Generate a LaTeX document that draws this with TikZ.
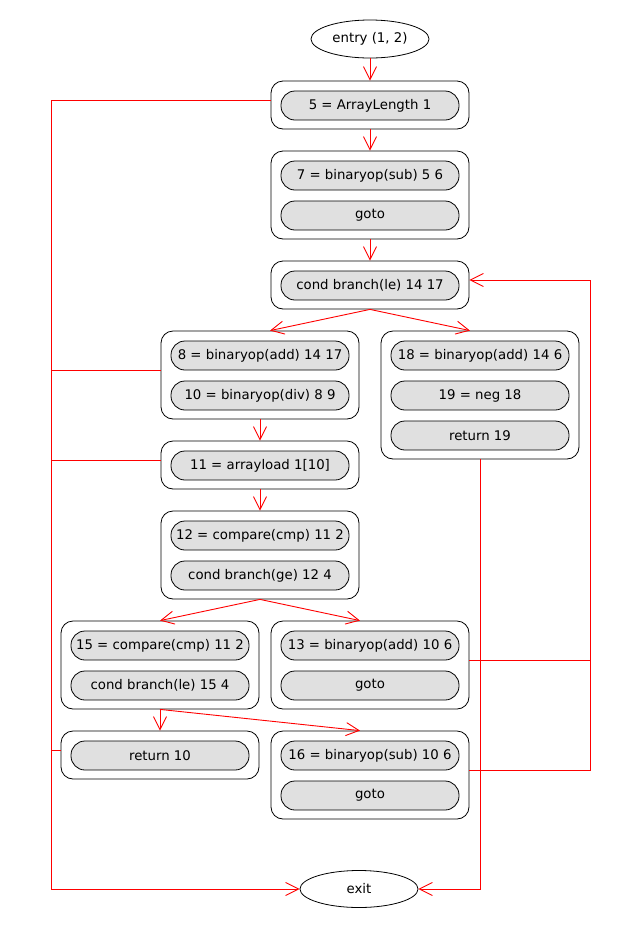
\documentclass[tikz,border=0pt]{standalone}
\usepackage{fontspec}
\setmainfont{DejaVu Sans}
\usetikzlibrary{shapes.geometric,arrows.meta}
\definecolor{pillgray}{RGB}{224,224,224}
\begin{document}
\begin{tikzpicture}[x=1pt,y=-1pt,
  block/.style={draw, rounded corners=12pt, minimum width=198pt, inner sep=0pt, line width=0.8pt},
  pill/.style={draw, fill=pillgray, rounded corners=14pt, minimum width=178pt, minimum height=29pt, inner sep=0pt, line width=0.8pt, font=\fontsize{13.3}{15}\selectfont},
  term/.style={draw, ellipse, minimum width=118pt, minimum height=38pt, inner sep=0pt, line width=0.8pt, font=\fontsize{13.3}{15}\selectfont},
  edge/.style={draw=red, line width=0.9pt, -{Straight Barb[length=13pt,width=13pt]}},
  plain/.style={draw=red, line width=0.9pt}]
\useasboundingbox (0,0) rectangle (630,930);
% terminals
\node[term] (entry) at (370,39) {entry (1, 2)};
\node[term, minimum height=37pt] (exit) at (359,889) {exit};
% blocks
\node[block, minimum height=48pt]  (B1)  at (370,105) {};
\node[block, minimum height=88pt]  (B2)  at (370,195) {};
\node[block, minimum height=48pt]  (B3)  at (370,285) {};
\node[block, minimum height=88pt]  (B4)  at (260,375) {};
\node[block, minimum height=128pt] (B5)  at (480,395) {};
\node[block, minimum height=48pt]  (B6)  at (260,465) {};
\node[block, minimum height=88pt]  (B7)  at (260,555) {};
\node[block, minimum height=88pt]  (B8)  at (160,665) {};
\node[block, minimum height=88pt]  (B9)  at (370,665) {};
\node[block, minimum height=48pt]  (B10) at (160,755) {};
\node[block, minimum height=88pt]  (B11) at (370,775) {};
% pills
\node[pill] (p1)  at (370,105.5) {5 = ArrayLength 1};
\node[pill] (p2)  at (370,175.5) {7 = binaryop(sub) 5 6};
\node[pill] (p3)  at (370,215.5) {goto};
\node[pill] (p4)  at (370,285.5) {cond branch(le) 14 17};
\node[pill] (p5)  at (260,355.5) {8 = binaryop(add) 14 17};
\node[pill] (p6)  at (260,395.5) {10 = binaryop(div) 8 9};
\node[pill] (p7)  at (480,355.5) {18 = binaryop(add) 14 6};
\node[pill] (p8)  at (480,395.5) {19 = neg 18};
\node[pill] (p9)  at (480,435.5) {return 19};
\node[pill] (p10) at (260,465.5) {11 = arrayload 1[10]};
\node[pill] (p11) at (260,535.5) {12 = compare(cmp) 11 2};
\node[pill] (p12) at (260,575.5) {cond branch(ge) 12 4};
\node[pill] (p13) at (160,645.5) {15 = compare(cmp) 11 2};
\node[pill] (p14) at (160,685.5) {cond branch(le) 15 4};
\node[pill] (p15) at (370,645.5) {13 = binaryop(add) 10 6};
\node[pill] (p16) at (370,685.5) {goto};
\node[pill] (p17) at (160,755.5) {return 10};
\node[pill] (p18) at (370,755.5) {16 = binaryop(sub) 10 6};
\node[pill] (p19) at (370,795.5) {goto};
% helper coordinates for routed edges
\coordinate (lx) at (51,0);
\coordinate (rx) at (590.5,0);
% straight edges
\draw[edge] (entry) -- (B1);
\draw[edge] (B1) -- (B2);
\draw[edge] (B2) -- (B3);
\draw[edge] (B3.south) -- ([xshift=10pt]B4.north);
\draw[edge] (B3.south) -- ([xshift=-10pt]B5.north);
\draw[edge] (B4) -- (B6);
\draw[edge] (B6) -- (B7);
\draw[edge] (B7.south) -- (B8.north);
\draw[edge] (B7.south) -- ([xshift=-10pt]B9.north);
\draw[edge] (B8.south) -- (B10.north);
\draw[edge] (B8.south) -- ([xshift=-10pt]B11.north);
% back edges on the right
\draw[edge] ([yshift=5pt]B9.east) -- ([yshift=5pt]B9.east -| rx) -- ([yshift=5pt]B3.east -| rx) -- ([yshift=5pt]B3.east);
\draw[plain] ([yshift=5pt]B11.east) -- ([yshift=5pt]B11.east -| rx) -- ([yshift=5pt]B9.east -| rx);
% edge to exit from B5
\draw[edge] (B5.south) |- (exit.east);
% edges to exit on the left
\draw[edge] ([yshift=5pt]B1.west) -- ([yshift=5pt]B1.west -| lx) |- (exit.west);
\draw[plain] ([yshift=5pt]B4.west) -- ([yshift=5pt]B4.west -| lx);
\draw[plain] ([yshift=5pt]B6.west) -- ([yshift=5pt]B6.west -| lx);
\draw[plain] ([yshift=5pt]B10.west) -- ([yshift=5pt]B10.west -| lx);
\end{tikzpicture}
\end{document}
